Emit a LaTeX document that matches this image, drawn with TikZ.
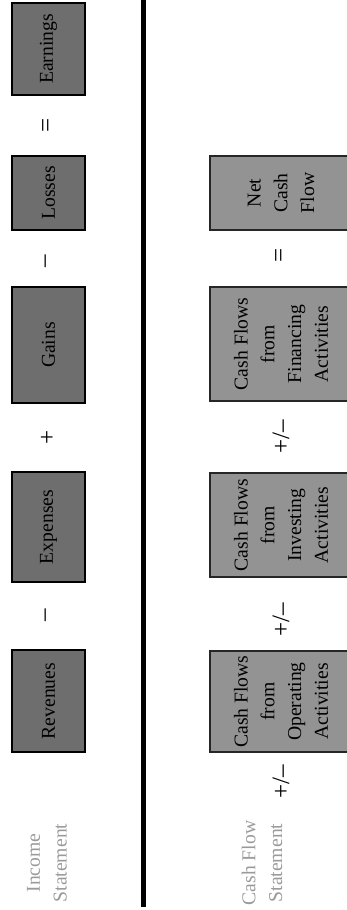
\documentclass[tikz,border=0pt]{standalone}
\usepackage{fontspec}
\setmainfont{Liberation Serif}
\usepackage{tikz}
\definecolor{incfill}{HTML}{6E6E6E}
\definecolor{cashfill}{HTML}{939393}
\definecolor{titlegray}{HTML}{9A9A9A}

\begin{document}
\begin{tikzpicture}[x = 0.56pt, y = -0.56pt,
                        font = \fontsize{11}{15}\selectfont,
                        incbox/.style = {draw, line width = 0.8pt, fill = incfill, rotate = 90,
                                         align = center, inner sep = 0pt, minimum height = 40.9pt},
                        cashbox/.style = {draw = black!85, line width = 0.8pt, fill = cashfill, rotate = 90,
                                          align = center, inner sep = 0pt, minimum height = 79.5pt},
                        op/.style = {rotate = 90, inner sep = 1pt, font = \fontsize{14}{16}\selectfont},
                        title/.style = {rotate = 90, align = center, text = titlegray}]
      \useasboundingbox (0, 0) rectangle (347, 910);
      \clip (0, 0) rectangle (347, 910);
      % income statement
      \node [incbox, minimum width = 51.5pt] (earn) at (48.5, 49){Earnings};
      \node [op] (eqa) at (48, 125){=};
      \node [incbox, minimum width = 41.4pt] (loss) at (48.5, 193){Losses};
      \node [op] (mnb) at (48, 261){--};
      \node [incbox, minimum width = 65pt] (gain) at (48.5, 345){Gains};
      \node [op] (pls) at (48, 437){+};
      \node [incbox, minimum width = 61.6pt] (expn) at (48.5, 527){Expenses};
      \node [op] (mna) at (48, 615){--};
      \node [incbox, minimum width = 57.1pt] (revn) at (48.5, 701){Revenues};
      \node [title] (inc) at (47, 863){Income\\Statement};
      % divider
      \coordinate (divtop) at (143, 0);
      \coordinate (divbot) at (143, 907);
      \draw [line width = 2.8pt] (divtop) -- (divbot);
      % cash flow statement
      \node [cashbox, minimum width = 41.4pt] (net) at (281, 193){Net\\Cash\\Flow};
      \node [op] (eqb) at (281, 255){=};
      \node [cashbox, minimum width = 63.8pt] (fin) at (281, 344){Cash Flows\\from\\Financing\\Activities};
      \node [op] (pmc) at (281, 437){+/--};
      \node [cashbox, minimum width = 58.2pt] (inv) at (281, 525){Cash Flows\\from\\Investing\\Activities};
      \node [op] (pmb) at (281, 620){+/--};
      \node [cashbox, minimum width = 56.6pt] (opr) at (281, 701.5){Cash Flows\\from\\Operating\\Activities};
      \node [op] (pma) at (281, 782){+/--};
      \node [title] (cfs) at (262, 863){Cash Flow\\Statement};
    \end{tikzpicture}
\end{document}
